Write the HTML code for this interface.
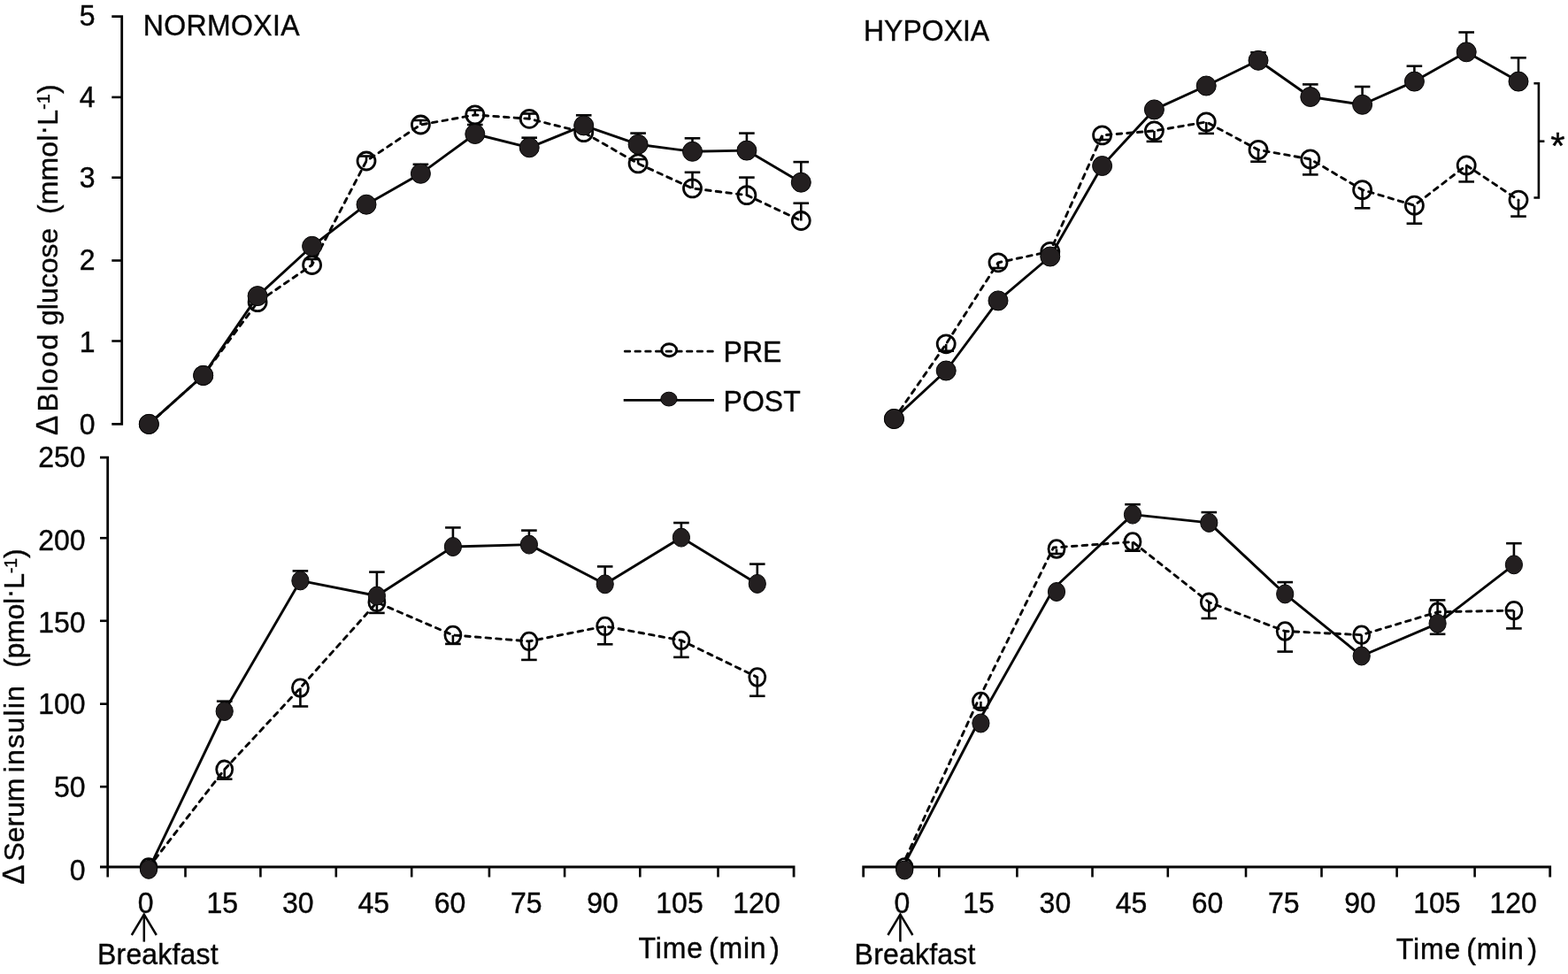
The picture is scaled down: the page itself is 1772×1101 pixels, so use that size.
<!DOCTYPE html><html><head><meta charset="utf-8"><title>Blood glucose and serum insulin</title>
<style>html,body{margin:0;padding:0;background:#fff;overflow:hidden;width:1772px;height:1101px;}svg{display:block;}text{font-family:"Liberation Sans", Arial, sans-serif;fill:#060606;stroke:#060606;stroke-width:0.4px;}</style></head><body>
<svg width="1772" height="1101" viewBox="0 0 1772 1101" stroke="#060606" stroke-linecap="butt">
<rect width="1772" height="1101" fill="#fff" stroke="none"/>
<polyline points="126.3,18.6 137.7,18.6 137.7,479.4 126.3,479.4" fill="none" stroke-width="2.8"/>
<line x1="126.3" y1="385.5" x2="137.7" y2="385.5" stroke-width="2.6" />
<line x1="126.3" y1="294.5" x2="137.7" y2="294.5" stroke-width="2.6" />
<line x1="126.3" y1="200.7" x2="137.7" y2="200.7" stroke-width="2.6" />
<line x1="126.3" y1="109.9" x2="137.7" y2="109.9" stroke-width="2.6" />
<text transform="translate(107.5,491.1) scale(1,1.04)" font-size="32" text-anchor="end" >0</text>
<text transform="translate(107.5,398.2) scale(1,1.04)" font-size="32" text-anchor="end" >1</text>
<text transform="translate(107.5,305.2) scale(1,1.04)" font-size="32" text-anchor="end" >2</text>
<text transform="translate(107.5,211.9) scale(1,1.04)" font-size="32" text-anchor="end" >3</text>
<text transform="translate(107.5,121.1) scale(1,1.04)" font-size="32" text-anchor="end" >4</text>
<text transform="translate(107.5,28.8) scale(1,1.04)" font-size="32" text-anchor="end" >5</text>
<polyline points="113.0,517.2 121.7,517.2 121.7,980" fill="none" stroke-width="2.8"/>
<line x1="113.0" y1="889.3" x2="121.7" y2="889.3" stroke-width="2.6" />
<line x1="113.0" y1="795.7" x2="121.7" y2="795.7" stroke-width="2.6" />
<line x1="113.0" y1="701.8" x2="121.7" y2="701.8" stroke-width="2.6" />
<line x1="113.0" y1="608.2" x2="121.7" y2="608.2" stroke-width="2.6" />
<text transform="translate(96.5,995.0) scale(1,1.04)" font-size="32" text-anchor="end" >0</text>
<text transform="translate(96.5,901.0) scale(1,1.04)" font-size="32" text-anchor="end" >50</text>
<text transform="translate(96.5,806.9) scale(1,1.04)" font-size="32" text-anchor="end" >100</text>
<text transform="translate(96.5,714.5) scale(1,1.04)" font-size="32" text-anchor="end" >150</text>
<text transform="translate(96.5,621.9) scale(1,1.04)" font-size="32" text-anchor="end" >200</text>
<text transform="translate(96.5,528.4) scale(1,1.04)" font-size="32" text-anchor="end" >250</text>
<polyline points="113.0,980 897.1,980 897.1,991.5" fill="none" stroke-width="2.8"/>
<line x1="121.7" y1="980.0" x2="121.7" y2="991.5" stroke-width="2.6" />
<line x1="209.5" y1="980.0" x2="209.5" y2="991.5" stroke-width="2.6" />
<line x1="294.4" y1="980.0" x2="294.4" y2="991.5" stroke-width="2.6" />
<line x1="379.8" y1="980.0" x2="379.8" y2="991.5" stroke-width="2.6" />
<line x1="465.2" y1="980.0" x2="465.2" y2="991.5" stroke-width="2.6" />
<line x1="552.9" y1="980.0" x2="552.9" y2="991.5" stroke-width="2.6" />
<line x1="638.1" y1="980.0" x2="638.1" y2="991.5" stroke-width="2.6" />
<line x1="723.3" y1="980.0" x2="723.3" y2="991.5" stroke-width="2.6" />
<line x1="811.5" y1="980.0" x2="811.5" y2="991.5" stroke-width="2.6" />
<text transform="translate(164.6,1032.0) scale(1,1.04)" font-size="32" text-anchor="middle" >0</text>
<text transform="translate(251.2,1032.0) scale(1,1.04)" font-size="32" text-anchor="middle" >15</text>
<text transform="translate(336.8,1032.0) scale(1,1.04)" font-size="32" text-anchor="middle" >30</text>
<text transform="translate(422.3,1032.0) scale(1,1.04)" font-size="32" text-anchor="middle" >45</text>
<text transform="translate(508.5,1032.0) scale(1,1.04)" font-size="32" text-anchor="middle" >60</text>
<text transform="translate(594.8,1032.0) scale(1,1.04)" font-size="32" text-anchor="middle" >75</text>
<text transform="translate(681.0,1032.0) scale(1,1.04)" font-size="32" text-anchor="middle" >90</text>
<text transform="translate(768.0,1032.0) scale(1,1.04)" font-size="32" text-anchor="middle" >105</text>
<text transform="translate(855.0,1032.0) scale(1,1.04)" font-size="32" text-anchor="middle" >120</text>
<polyline points="975.7,991.5 975.7,980 1751.7,980 1751.7,991.5" fill="none" stroke-width="2.8"/>
<line x1="1061.3" y1="980.0" x2="1061.3" y2="991.5" stroke-width="2.6" />
<line x1="1149.4" y1="980.0" x2="1149.4" y2="991.5" stroke-width="2.6" />
<line x1="1234.5" y1="980.0" x2="1234.5" y2="991.5" stroke-width="2.6" />
<line x1="1319.8" y1="980.0" x2="1319.8" y2="991.5" stroke-width="2.6" />
<line x1="1408.0" y1="980.0" x2="1408.0" y2="991.5" stroke-width="2.6" />
<line x1="1493.5" y1="980.0" x2="1493.5" y2="991.5" stroke-width="2.6" />
<line x1="1578.6" y1="980.0" x2="1578.6" y2="991.5" stroke-width="2.6" />
<line x1="1666.6" y1="980.0" x2="1666.6" y2="991.5" stroke-width="2.6" />
<text transform="translate(1019.3,1032.0) scale(1,1.04)" font-size="32" text-anchor="middle" >0</text>
<text transform="translate(1106.0,1032.0) scale(1,1.04)" font-size="32" text-anchor="middle" >15</text>
<text transform="translate(1192.4,1032.0) scale(1,1.04)" font-size="32" text-anchor="middle" >30</text>
<text transform="translate(1278.6,1032.0) scale(1,1.04)" font-size="32" text-anchor="middle" >45</text>
<text transform="translate(1364.5,1032.0) scale(1,1.04)" font-size="32" text-anchor="middle" >60</text>
<text transform="translate(1450.8,1032.0) scale(1,1.04)" font-size="32" text-anchor="middle" >75</text>
<text transform="translate(1537.0,1032.0) scale(1,1.04)" font-size="32" text-anchor="middle" >90</text>
<text transform="translate(1623.9,1032.0) scale(1,1.04)" font-size="32" text-anchor="middle" >105</text>
<text transform="translate(1710.1,1032.0) scale(1,1.04)" font-size="32" text-anchor="middle" >120</text>
<polyline points="148.8,1057 162.8,1033.6 176.8,1057" fill="none" stroke-width="2.5" stroke-linejoin="miter"/>
<line x1="162.8" y1="1033.6" x2="162.8" y2="1064.6" stroke-width="2.5" />
<polyline points="1003.4,1057 1017.4,1033.6 1031.4,1057" fill="none" stroke-width="2.5" stroke-linejoin="miter"/>
<line x1="1017.4" y1="1033.6" x2="1017.4" y2="1064.6" stroke-width="2.5" />
<text transform="translate(110.0,1090.0) scale(1,1.04)" font-size="32" text-anchor="start" letter-spacing="0.2">Breakfast</text>
<text transform="translate(965.6,1090.1) scale(1,1.04)" font-size="32" text-anchor="start" letter-spacing="0.2">Breakfast</text>
<text transform="translate(0.0,1083.2) scale(1,1.04)" font-size="32"><tspan x="721.5" letter-spacing="0.9">Time</tspan> <tspan x="801.0" letter-spacing="0.8">(min</tspan> <tspan x="870.3">)</tspan></text>
<text transform="translate(856.2,1083.6) scale(1,1.04)" font-size="32"><tspan x="721.5" letter-spacing="0.9">Time</tspan> <tspan x="801.0" letter-spacing="0.8">(min</tspan> <tspan x="870.3">)</tspan></text>
<text transform="translate(161.8,40.1) scale(1,1.04)" font-size="32" text-anchor="start" letter-spacing="0.38">NORMOXIA</text>
<text transform="translate(976.0,46.4) scale(1,1.04)" font-size="32" text-anchor="start" >HYPOXIA</text>
<text transform="translate(64.5,492.0) rotate(-90) scale(1,1.02)" font-size="33.5">&#916;</text>
<text transform="translate(64.5,465.6) rotate(-90) scale(1,0.99)" font-size="32" textLength="87.81" lengthAdjust="spacing">Blood</text>
<text transform="translate(64.5,368.0) rotate(-90) scale(1,0.99)" font-size="32" textLength="110.27" lengthAdjust="spacing">glucose</text>
<text transform="translate(64.5,242.0) rotate(-90) scale(1,0.99)" font-size="32" textLength="146.73" lengthAdjust="spacing">(mmol<tspan dy="-6">&#183;</tspan><tspan dy="6">L</tspan><tspan font-size="20" dy="-8.5">-1</tspan><tspan dy="8.5">)</tspan></text>
<text transform="translate(27.3,999.8) rotate(-90) scale(1,1.02)" font-size="33.5">&#916;</text>
<text transform="translate(27.3,973.4) rotate(-90) scale(1,0.99)" font-size="32" textLength="93.72" lengthAdjust="spacing">Serum</text>
<text transform="translate(27.3,873.4) rotate(-90) scale(1,0.99)" font-size="32" textLength="98.19" lengthAdjust="spacing">insulin</text>
<text transform="translate(27.3,754.8) rotate(-90) scale(1,0.99)" font-size="32" textLength="134.37" lengthAdjust="spacing">(pmol<tspan dy="-6">&#183;</tspan><tspan dy="6">L</tspan><tspan font-size="20" dy="-8.5">-1</tspan><tspan dy="8.5">)</tspan></text>
<line x1="706.2" y1="397.2" x2="806.5" y2="397.2" stroke-width="2.7" stroke-dasharray="5.6 6.1" stroke-linecap="round"/>
<ellipse cx="756.2" cy="395.7" rx="8.4" ry="7.0" fill="none" stroke-width="2.9"/>
<text transform="translate(817.6,408.9) scale(1,1.04)" font-size="32" text-anchor="start" >PRE</text>
<line x1="704.7" y1="452.4" x2="807.0" y2="452.4" stroke-width="2.7" />
<ellipse cx="755.9" cy="451.1" rx="9.1" ry="7.9" fill="#231f20" stroke-width="1.0"/>
<text transform="translate(817.6,465.4) scale(1,1.04)" font-size="32" text-anchor="start" >POST</text>
<polyline points="1733.4,94.3 1738.9,94.3 1738.9,223.5 1733.4,223.5" fill="none" stroke-width="2.6"/>
<line x1="1738.9" y1="159.7" x2="1745.4" y2="159.7" stroke-width="2.6" />
<text transform="translate(1752.3,179.3) scale(1,1.0)" font-size="42" text-anchor="start" >*</text>
<polyline points="168.3,479.4 229.7,424.4 291.1,341.6 352.6,299.5 414.0,182.0 475.4,141.0 536.8,129.9 598.2,134.3 659.7,149.7 721.1,184.9 782.5,212.9 843.9,220.6 905.3,249.5" fill="none" stroke-width="2.9" stroke-linejoin="round" stroke-dasharray="5.6 6.1" stroke-linecap="round"/>
<line x1="291.1" y1="341.6" x2="291.1" y2="336.0" stroke-width="2.6" />
<line x1="282.3" y1="336.0" x2="299.9" y2="336.0" stroke-width="2.6" />
<line x1="352.6" y1="299.5" x2="352.6" y2="293.0" stroke-width="2.6" />
<line x1="343.8" y1="293.0" x2="361.4" y2="293.0" stroke-width="2.6" />
<line x1="414.0" y1="182.0" x2="414.0" y2="176.5" stroke-width="2.6" />
<line x1="405.2" y1="176.5" x2="422.8" y2="176.5" stroke-width="2.6" />
<line x1="475.4" y1="141.0" x2="475.4" y2="136.0" stroke-width="2.6" />
<line x1="466.6" y1="136.0" x2="484.2" y2="136.0" stroke-width="2.6" />
<line x1="536.8" y1="129.9" x2="536.8" y2="124.5" stroke-width="2.6" />
<line x1="528.0" y1="124.5" x2="545.6" y2="124.5" stroke-width="2.6" />
<line x1="598.2" y1="134.3" x2="598.2" y2="128.5" stroke-width="2.6" />
<line x1="589.4" y1="128.5" x2="607.0" y2="128.5" stroke-width="2.6" />
<line x1="659.7" y1="149.7" x2="659.7" y2="144.0" stroke-width="2.6" />
<line x1="650.9" y1="144.0" x2="668.5" y2="144.0" stroke-width="2.6" />
<line x1="721.1" y1="184.9" x2="721.1" y2="180.0" stroke-width="2.6" />
<line x1="712.3" y1="180.0" x2="729.9" y2="180.0" stroke-width="2.6" />
<line x1="782.5" y1="212.9" x2="782.5" y2="194.8" stroke-width="2.6" />
<line x1="773.7" y1="194.8" x2="791.3" y2="194.8" stroke-width="2.6" />
<line x1="843.9" y1="220.6" x2="843.9" y2="200.6" stroke-width="2.6" />
<line x1="835.1" y1="200.6" x2="852.7" y2="200.6" stroke-width="2.6" />
<line x1="905.3" y1="249.5" x2="905.3" y2="229.7" stroke-width="2.6" />
<line x1="896.5" y1="229.7" x2="914.1" y2="229.7" stroke-width="2.6" />
<ellipse cx="168.3" cy="479.4" rx="10.0" ry="10.0" fill="none" stroke-width="2.8"/>
<ellipse cx="229.7" cy="424.4" rx="10.0" ry="10.0" fill="none" stroke-width="2.8"/>
<ellipse cx="291.1" cy="341.6" rx="10.0" ry="10.0" fill="none" stroke-width="2.8"/>
<ellipse cx="352.6" cy="299.5" rx="10.0" ry="10.0" fill="none" stroke-width="2.8"/>
<ellipse cx="414.0" cy="182.0" rx="10.0" ry="10.0" fill="none" stroke-width="2.8"/>
<ellipse cx="475.4" cy="141.0" rx="10.0" ry="10.0" fill="none" stroke-width="2.8"/>
<ellipse cx="536.8" cy="129.9" rx="10.0" ry="10.0" fill="none" stroke-width="2.8"/>
<ellipse cx="598.2" cy="134.3" rx="10.0" ry="10.0" fill="none" stroke-width="2.8"/>
<ellipse cx="659.7" cy="149.7" rx="10.0" ry="10.0" fill="none" stroke-width="2.8"/>
<ellipse cx="721.1" cy="184.9" rx="10.0" ry="10.0" fill="none" stroke-width="2.8"/>
<ellipse cx="782.5" cy="212.9" rx="10.0" ry="10.0" fill="none" stroke-width="2.8"/>
<ellipse cx="843.9" cy="220.6" rx="10.0" ry="10.0" fill="none" stroke-width="2.8"/>
<ellipse cx="905.3" cy="249.5" rx="10.0" ry="10.0" fill="none" stroke-width="2.8"/>
<polyline points="168.3,479.4 229.7,424.4 291.1,334.6 352.6,278.3 414.0,231.2 475.4,196.3 536.8,151.5 598.2,166.8 659.7,141.9 721.1,163.2 782.5,171.3 843.9,170.1 905.3,206.2" fill="none" stroke-width="2.9" stroke-linejoin="round" />
<line x1="475.4" y1="196.3" x2="475.4" y2="185.8" stroke-width="2.6" />
<line x1="466.6" y1="185.8" x2="484.2" y2="185.8" stroke-width="2.6" />
<line x1="536.8" y1="151.5" x2="536.8" y2="141.0" stroke-width="2.6" />
<line x1="528.0" y1="141.0" x2="545.6" y2="141.0" stroke-width="2.6" />
<line x1="598.2" y1="166.8" x2="598.2" y2="155.7" stroke-width="2.6" />
<line x1="589.4" y1="155.7" x2="607.0" y2="155.7" stroke-width="2.6" />
<line x1="659.7" y1="141.9" x2="659.7" y2="130.3" stroke-width="2.6" />
<line x1="650.9" y1="130.3" x2="668.5" y2="130.3" stroke-width="2.6" />
<line x1="721.1" y1="163.2" x2="721.1" y2="150.6" stroke-width="2.6" />
<line x1="712.3" y1="150.6" x2="729.9" y2="150.6" stroke-width="2.6" />
<line x1="782.5" y1="171.3" x2="782.5" y2="156.3" stroke-width="2.6" />
<line x1="773.7" y1="156.3" x2="791.3" y2="156.3" stroke-width="2.6" />
<line x1="843.9" y1="170.1" x2="843.9" y2="150.6" stroke-width="2.6" />
<line x1="835.1" y1="150.6" x2="852.7" y2="150.6" stroke-width="2.6" />
<line x1="905.3" y1="206.2" x2="905.3" y2="183.1" stroke-width="2.6" />
<line x1="896.5" y1="183.1" x2="914.1" y2="183.1" stroke-width="2.6" />
<ellipse cx="168.3" cy="479.4" rx="11.0" ry="11.0" fill="#231f20" stroke-width="1.0"/>
<ellipse cx="229.7" cy="424.4" rx="11.0" ry="11.0" fill="#231f20" stroke-width="1.0"/>
<ellipse cx="291.1" cy="334.6" rx="11.0" ry="11.0" fill="#231f20" stroke-width="1.0"/>
<ellipse cx="352.6" cy="278.3" rx="11.0" ry="11.0" fill="#231f20" stroke-width="1.0"/>
<ellipse cx="414.0" cy="231.2" rx="11.0" ry="11.0" fill="#231f20" stroke-width="1.0"/>
<ellipse cx="475.4" cy="196.3" rx="11.0" ry="11.0" fill="#231f20" stroke-width="1.0"/>
<ellipse cx="536.8" cy="151.5" rx="11.0" ry="11.0" fill="#231f20" stroke-width="1.0"/>
<ellipse cx="598.2" cy="166.8" rx="11.0" ry="11.0" fill="#231f20" stroke-width="1.0"/>
<ellipse cx="659.7" cy="141.9" rx="11.0" ry="11.0" fill="#231f20" stroke-width="1.0"/>
<ellipse cx="721.1" cy="163.2" rx="11.0" ry="11.0" fill="#231f20" stroke-width="1.0"/>
<ellipse cx="782.5" cy="171.3" rx="11.0" ry="11.0" fill="#231f20" stroke-width="1.0"/>
<ellipse cx="843.9" cy="170.1" rx="11.0" ry="11.0" fill="#231f20" stroke-width="1.0"/>
<ellipse cx="905.3" cy="206.2" rx="11.0" ry="11.0" fill="#231f20" stroke-width="1.0"/>
<polyline points="1010.4,473.5 1069.2,388.8 1128.0,296.8 1186.8,284.3 1245.6,152.9 1304.4,147.9 1363.2,137.9 1422.0,169.4 1480.8,179.9 1539.6,214.6 1598.4,232.2 1657.2,186.9 1716.0,226.1" fill="none" stroke-width="2.9" stroke-linejoin="round" stroke-dasharray="5.6 6.1" stroke-linecap="round"/>
<line x1="1069.2" y1="388.8" x2="1069.2" y2="396.7" stroke-width="2.6" />
<line x1="1060.4" y1="396.7" x2="1078.0" y2="396.7" stroke-width="2.6" />
<line x1="1128.0" y1="296.8" x2="1128.0" y2="303.0" stroke-width="2.6" />
<line x1="1119.2" y1="303.0" x2="1136.8" y2="303.0" stroke-width="2.6" />
<line x1="1186.8" y1="284.3" x2="1186.8" y2="290.0" stroke-width="2.6" />
<line x1="1178.0" y1="290.0" x2="1195.6" y2="290.0" stroke-width="2.6" />
<line x1="1245.6" y1="152.9" x2="1245.6" y2="158.0" stroke-width="2.6" />
<line x1="1236.8" y1="158.0" x2="1254.4" y2="158.0" stroke-width="2.6" />
<line x1="1304.4" y1="147.9" x2="1304.4" y2="159.9" stroke-width="2.6" />
<line x1="1295.6" y1="159.9" x2="1313.2" y2="159.9" stroke-width="2.6" />
<line x1="1363.2" y1="137.9" x2="1363.2" y2="150.9" stroke-width="2.6" />
<line x1="1354.4" y1="150.9" x2="1372.0" y2="150.9" stroke-width="2.6" />
<line x1="1422.0" y1="169.4" x2="1422.0" y2="182.7" stroke-width="2.6" />
<line x1="1413.2" y1="182.7" x2="1430.8" y2="182.7" stroke-width="2.6" />
<line x1="1480.8" y1="179.9" x2="1480.8" y2="197.4" stroke-width="2.6" />
<line x1="1472.0" y1="197.4" x2="1489.6" y2="197.4" stroke-width="2.6" />
<line x1="1539.6" y1="214.6" x2="1539.6" y2="235.3" stroke-width="2.6" />
<line x1="1530.8" y1="235.3" x2="1548.4" y2="235.3" stroke-width="2.6" />
<line x1="1598.4" y1="232.2" x2="1598.4" y2="252.7" stroke-width="2.6" />
<line x1="1589.6" y1="252.7" x2="1607.2" y2="252.7" stroke-width="2.6" />
<line x1="1657.2" y1="186.9" x2="1657.2" y2="205.4" stroke-width="2.6" />
<line x1="1648.4" y1="205.4" x2="1666.0" y2="205.4" stroke-width="2.6" />
<line x1="1716.0" y1="226.1" x2="1716.0" y2="244.6" stroke-width="2.6" />
<line x1="1707.2" y1="244.6" x2="1724.8" y2="244.6" stroke-width="2.6" />
<ellipse cx="1010.4" cy="473.5" rx="10.0" ry="10.0" fill="none" stroke-width="2.8"/>
<ellipse cx="1069.2" cy="388.8" rx="10.0" ry="10.0" fill="none" stroke-width="2.8"/>
<ellipse cx="1128.0" cy="296.8" rx="10.0" ry="10.0" fill="none" stroke-width="2.8"/>
<ellipse cx="1186.8" cy="284.3" rx="10.0" ry="10.0" fill="none" stroke-width="2.8"/>
<ellipse cx="1245.6" cy="152.9" rx="10.0" ry="10.0" fill="none" stroke-width="2.8"/>
<ellipse cx="1304.4" cy="147.9" rx="10.0" ry="10.0" fill="none" stroke-width="2.8"/>
<ellipse cx="1363.2" cy="137.9" rx="10.0" ry="10.0" fill="none" stroke-width="2.8"/>
<ellipse cx="1422.0" cy="169.4" rx="10.0" ry="10.0" fill="none" stroke-width="2.8"/>
<ellipse cx="1480.8" cy="179.9" rx="10.0" ry="10.0" fill="none" stroke-width="2.8"/>
<ellipse cx="1539.6" cy="214.6" rx="10.0" ry="10.0" fill="none" stroke-width="2.8"/>
<ellipse cx="1598.4" cy="232.2" rx="10.0" ry="10.0" fill="none" stroke-width="2.8"/>
<ellipse cx="1657.2" cy="186.9" rx="10.0" ry="10.0" fill="none" stroke-width="2.8"/>
<ellipse cx="1716.0" cy="226.1" rx="10.0" ry="10.0" fill="none" stroke-width="2.8"/>
<polyline points="1010.4,473.5 1069.2,419.0 1128.0,339.9 1186.8,290.0 1245.6,187.5 1304.4,123.9 1363.2,97.0 1422.0,68.3 1480.8,109.5 1539.6,118.3 1598.4,92.1 1657.2,58.8 1716.0,92.1" fill="none" stroke-width="2.9" stroke-linejoin="round" />
<line x1="1422.0" y1="68.3" x2="1422.0" y2="59.3" stroke-width="2.6" />
<line x1="1413.2" y1="59.3" x2="1430.8" y2="59.3" stroke-width="2.6" />
<line x1="1480.8" y1="109.5" x2="1480.8" y2="95.4" stroke-width="2.6" />
<line x1="1472.0" y1="95.4" x2="1489.6" y2="95.4" stroke-width="2.6" />
<line x1="1539.6" y1="118.3" x2="1539.6" y2="98.0" stroke-width="2.6" />
<line x1="1530.8" y1="98.0" x2="1548.4" y2="98.0" stroke-width="2.6" />
<line x1="1598.4" y1="92.1" x2="1598.4" y2="74.7" stroke-width="2.6" />
<line x1="1589.6" y1="74.7" x2="1607.2" y2="74.7" stroke-width="2.6" />
<line x1="1657.2" y1="58.8" x2="1657.2" y2="36.5" stroke-width="2.6" />
<line x1="1648.4" y1="36.5" x2="1666.0" y2="36.5" stroke-width="2.6" />
<line x1="1716.0" y1="92.1" x2="1716.0" y2="65.3" stroke-width="2.6" />
<line x1="1707.2" y1="65.3" x2="1724.8" y2="65.3" stroke-width="2.6" />
<ellipse cx="1010.4" cy="473.5" rx="11.0" ry="11.0" fill="#231f20" stroke-width="1.0"/>
<ellipse cx="1069.2" cy="419.0" rx="11.0" ry="11.0" fill="#231f20" stroke-width="1.0"/>
<ellipse cx="1128.0" cy="339.9" rx="11.0" ry="11.0" fill="#231f20" stroke-width="1.0"/>
<ellipse cx="1186.8" cy="290.0" rx="11.0" ry="11.0" fill="#231f20" stroke-width="1.0"/>
<ellipse cx="1245.6" cy="187.5" rx="11.0" ry="11.0" fill="#231f20" stroke-width="1.0"/>
<ellipse cx="1304.4" cy="123.9" rx="11.0" ry="11.0" fill="#231f20" stroke-width="1.0"/>
<ellipse cx="1363.2" cy="97.0" rx="11.0" ry="11.0" fill="#231f20" stroke-width="1.0"/>
<ellipse cx="1422.0" cy="68.3" rx="11.0" ry="11.0" fill="#231f20" stroke-width="1.0"/>
<ellipse cx="1480.8" cy="109.5" rx="11.0" ry="11.0" fill="#231f20" stroke-width="1.0"/>
<ellipse cx="1539.6" cy="118.3" rx="11.0" ry="11.0" fill="#231f20" stroke-width="1.0"/>
<ellipse cx="1598.4" cy="92.1" rx="11.0" ry="11.0" fill="#231f20" stroke-width="1.0"/>
<ellipse cx="1657.2" cy="58.8" rx="11.0" ry="11.0" fill="#231f20" stroke-width="1.0"/>
<ellipse cx="1716.0" cy="92.1" rx="11.0" ry="11.0" fill="#231f20" stroke-width="1.0"/>
<polyline points="168.0,980.5 253.7,869.8 339.4,777.6 425.9,680.9 511.9,717.9 597.9,724.9 683.7,707.9 769.9,723.9 855.8,765.5" fill="none" stroke-width="2.9" stroke-linejoin="round" stroke-dasharray="5.6 6.1" stroke-linecap="round"/>
<line x1="253.7" y1="869.8" x2="253.7" y2="880.7" stroke-width="2.6" />
<line x1="244.9" y1="880.7" x2="262.5" y2="880.7" stroke-width="2.6" />
<line x1="339.4" y1="777.6" x2="339.4" y2="798.5" stroke-width="2.6" />
<line x1="330.6" y1="798.5" x2="348.2" y2="798.5" stroke-width="2.6" />
<line x1="425.9" y1="680.9" x2="425.9" y2="692.9" stroke-width="2.6" />
<line x1="417.1" y1="692.9" x2="434.7" y2="692.9" stroke-width="2.6" />
<line x1="511.9" y1="717.9" x2="511.9" y2="727.9" stroke-width="2.6" />
<line x1="503.1" y1="727.9" x2="520.7" y2="727.9" stroke-width="2.6" />
<line x1="597.9" y1="724.9" x2="597.9" y2="745.9" stroke-width="2.6" />
<line x1="589.1" y1="745.9" x2="606.7" y2="745.9" stroke-width="2.6" />
<line x1="683.7" y1="707.9" x2="683.7" y2="728.3" stroke-width="2.6" />
<line x1="674.9" y1="728.3" x2="692.5" y2="728.3" stroke-width="2.6" />
<line x1="769.9" y1="723.9" x2="769.9" y2="742.9" stroke-width="2.6" />
<line x1="761.1" y1="742.9" x2="778.7" y2="742.9" stroke-width="2.6" />
<line x1="855.8" y1="765.5" x2="855.8" y2="786.8" stroke-width="2.6" />
<line x1="847.0" y1="786.8" x2="864.6" y2="786.8" stroke-width="2.6" />
<ellipse cx="168.0" cy="980.5" rx="9.0" ry="9.8" fill="none" stroke-width="2.8"/>
<ellipse cx="253.7" cy="869.8" rx="9.0" ry="9.8" fill="none" stroke-width="2.8"/>
<ellipse cx="339.4" cy="777.6" rx="9.0" ry="9.8" fill="none" stroke-width="2.8"/>
<ellipse cx="425.9" cy="680.9" rx="9.0" ry="9.8" fill="none" stroke-width="2.8"/>
<ellipse cx="511.9" cy="717.9" rx="9.0" ry="9.8" fill="none" stroke-width="2.8"/>
<ellipse cx="597.9" cy="724.9" rx="9.0" ry="9.8" fill="none" stroke-width="2.8"/>
<ellipse cx="683.7" cy="707.9" rx="9.0" ry="9.8" fill="none" stroke-width="2.8"/>
<ellipse cx="769.9" cy="723.9" rx="9.0" ry="9.8" fill="none" stroke-width="2.8"/>
<ellipse cx="855.8" cy="765.5" rx="9.0" ry="9.8" fill="none" stroke-width="2.8"/>
<polyline points="168.0,982.8 253.7,804.0 339.4,656.4 425.9,673.5 511.9,618.0 597.9,615.6 683.7,660.3 769.9,607.6 855.8,659.9" fill="none" stroke-width="2.9" stroke-linejoin="round" />
<line x1="253.7" y1="804.0" x2="253.7" y2="792.7" stroke-width="2.6" />
<line x1="244.9" y1="792.7" x2="262.5" y2="792.7" stroke-width="2.6" />
<line x1="339.4" y1="656.4" x2="339.4" y2="645.4" stroke-width="2.6" />
<line x1="330.6" y1="645.4" x2="348.2" y2="645.4" stroke-width="2.6" />
<line x1="425.9" y1="673.5" x2="425.9" y2="646.6" stroke-width="2.6" />
<line x1="417.1" y1="646.6" x2="434.7" y2="646.6" stroke-width="2.6" />
<line x1="511.9" y1="618.0" x2="511.9" y2="596.4" stroke-width="2.6" />
<line x1="503.1" y1="596.4" x2="520.7" y2="596.4" stroke-width="2.6" />
<line x1="597.9" y1="615.6" x2="597.9" y2="599.6" stroke-width="2.6" />
<line x1="589.1" y1="599.6" x2="606.7" y2="599.6" stroke-width="2.6" />
<line x1="683.7" y1="660.3" x2="683.7" y2="640.4" stroke-width="2.6" />
<line x1="674.9" y1="640.4" x2="692.5" y2="640.4" stroke-width="2.6" />
<line x1="769.9" y1="607.6" x2="769.9" y2="591.0" stroke-width="2.6" />
<line x1="761.1" y1="591.0" x2="778.7" y2="591.0" stroke-width="2.6" />
<line x1="855.8" y1="659.9" x2="855.8" y2="637.6" stroke-width="2.6" />
<line x1="847.0" y1="637.6" x2="864.6" y2="637.6" stroke-width="2.6" />
<ellipse cx="168.0" cy="982.8" rx="9.6" ry="10.5" fill="#231f20" stroke-width="1.0"/>
<ellipse cx="253.7" cy="804.0" rx="9.6" ry="10.5" fill="#231f20" stroke-width="1.0"/>
<ellipse cx="339.4" cy="656.4" rx="9.6" ry="10.5" fill="#231f20" stroke-width="1.0"/>
<ellipse cx="425.9" cy="673.5" rx="9.6" ry="10.5" fill="#231f20" stroke-width="1.0"/>
<ellipse cx="511.9" cy="618.0" rx="9.6" ry="10.5" fill="#231f20" stroke-width="1.0"/>
<ellipse cx="597.9" cy="615.6" rx="9.6" ry="10.5" fill="#231f20" stroke-width="1.0"/>
<ellipse cx="683.7" cy="660.3" rx="9.6" ry="10.5" fill="#231f20" stroke-width="1.0"/>
<ellipse cx="769.9" cy="607.6" rx="9.6" ry="10.5" fill="#231f20" stroke-width="1.0"/>
<ellipse cx="855.8" cy="659.9" rx="9.6" ry="10.5" fill="#231f20" stroke-width="1.0"/>
<polyline points="1018.7,980.5 1104.9,793.0 1190.5,619.0 1280.0,612.5 1366.3,680.8 1452.2,713.5 1538.7,717.7 1624.6,691.8 1710.9,690.1" fill="none" stroke-width="2.9" stroke-linejoin="round" stroke-dasharray="5.6 6.1" stroke-linecap="round"/>
<line x1="1108.4" y1="793.0" x2="1108.4" y2="800.0" stroke-width="2.6" />
<line x1="1099.6" y1="800.0" x2="1117.2" y2="800.0" stroke-width="2.6" />
<line x1="1194.0" y1="620.5" x2="1194.0" y2="626.0" stroke-width="2.6" />
<line x1="1185.2" y1="626.0" x2="1202.8" y2="626.0" stroke-width="2.6" />
<line x1="1280.0" y1="612.5" x2="1280.0" y2="622.7" stroke-width="2.6" />
<line x1="1271.2" y1="622.7" x2="1288.8" y2="622.7" stroke-width="2.6" />
<line x1="1366.3" y1="680.8" x2="1366.3" y2="699.0" stroke-width="2.6" />
<line x1="1357.5" y1="699.0" x2="1375.1" y2="699.0" stroke-width="2.6" />
<line x1="1452.2" y1="713.5" x2="1452.2" y2="736.6" stroke-width="2.6" />
<line x1="1443.4" y1="736.6" x2="1461.0" y2="736.6" stroke-width="2.6" />
<line x1="1538.7" y1="717.7" x2="1538.7" y2="738.0" stroke-width="2.6" />
<line x1="1529.9" y1="738.0" x2="1547.5" y2="738.0" stroke-width="2.6" />
<line x1="1624.6" y1="691.8" x2="1624.6" y2="716.8" stroke-width="2.6" />
<line x1="1615.8" y1="716.8" x2="1633.4" y2="716.8" stroke-width="2.6" />
<line x1="1710.9" y1="690.1" x2="1710.9" y2="710.4" stroke-width="2.6" />
<line x1="1702.1" y1="710.4" x2="1719.7" y2="710.4" stroke-width="2.6" />
<ellipse cx="1022.2" cy="980.5" rx="9.0" ry="9.8" fill="none" stroke-width="2.8"/>
<ellipse cx="1108.4" cy="793.0" rx="9.0" ry="9.8" fill="none" stroke-width="2.8"/>
<ellipse cx="1194.0" cy="620.5" rx="9.0" ry="9.8" fill="none" stroke-width="2.8"/>
<ellipse cx="1280.0" cy="612.5" rx="9.0" ry="9.8" fill="none" stroke-width="2.8"/>
<ellipse cx="1366.3" cy="680.8" rx="9.0" ry="9.8" fill="none" stroke-width="2.8"/>
<ellipse cx="1452.2" cy="713.5" rx="9.0" ry="9.8" fill="none" stroke-width="2.8"/>
<ellipse cx="1538.7" cy="717.7" rx="9.0" ry="9.8" fill="none" stroke-width="2.8"/>
<ellipse cx="1624.6" cy="691.8" rx="9.0" ry="9.8" fill="none" stroke-width="2.8"/>
<ellipse cx="1710.9" cy="690.1" rx="9.0" ry="9.8" fill="none" stroke-width="2.8"/>
<polyline points="1018.7,983.5 1104.9,817.5 1191.0,665.0 1280.0,581.6 1366.3,590.9 1452.2,671.4 1538.7,741.5 1624.6,704.8 1710.9,638.3" fill="none" stroke-width="2.9" stroke-linejoin="round" />
<line x1="1280.0" y1="581.6" x2="1280.0" y2="570.2" stroke-width="2.6" />
<line x1="1271.2" y1="570.2" x2="1288.8" y2="570.2" stroke-width="2.6" />
<line x1="1366.3" y1="590.9" x2="1366.3" y2="579.1" stroke-width="2.6" />
<line x1="1357.5" y1="579.1" x2="1375.1" y2="579.1" stroke-width="2.6" />
<line x1="1452.2" y1="671.4" x2="1452.2" y2="658.1" stroke-width="2.6" />
<line x1="1443.4" y1="658.1" x2="1461.0" y2="658.1" stroke-width="2.6" />
<line x1="1624.6" y1="704.8" x2="1624.6" y2="678.4" stroke-width="2.6" />
<line x1="1615.8" y1="678.4" x2="1633.4" y2="678.4" stroke-width="2.6" />
<line x1="1710.9" y1="638.3" x2="1710.9" y2="614.2" stroke-width="2.6" />
<line x1="1702.1" y1="614.2" x2="1719.7" y2="614.2" stroke-width="2.6" />
<ellipse cx="1022.2" cy="983.5" rx="9.6" ry="10.5" fill="#231f20" stroke-width="1.0"/>
<ellipse cx="1108.4" cy="817.5" rx="9.6" ry="10.5" fill="#231f20" stroke-width="1.0"/>
<ellipse cx="1194.0" cy="669.0" rx="9.6" ry="10.5" fill="#231f20" stroke-width="1.0"/>
<ellipse cx="1280.0" cy="581.6" rx="9.6" ry="10.5" fill="#231f20" stroke-width="1.0"/>
<ellipse cx="1366.3" cy="590.9" rx="9.6" ry="10.5" fill="#231f20" stroke-width="1.0"/>
<ellipse cx="1452.2" cy="671.4" rx="9.6" ry="10.5" fill="#231f20" stroke-width="1.0"/>
<ellipse cx="1538.7" cy="741.5" rx="9.6" ry="10.5" fill="#231f20" stroke-width="1.0"/>
<ellipse cx="1624.6" cy="704.8" rx="9.6" ry="10.5" fill="#231f20" stroke-width="1.0"/>
<ellipse cx="1710.9" cy="638.3" rx="9.6" ry="10.5" fill="#231f20" stroke-width="1.0"/>
</svg></body></html>
